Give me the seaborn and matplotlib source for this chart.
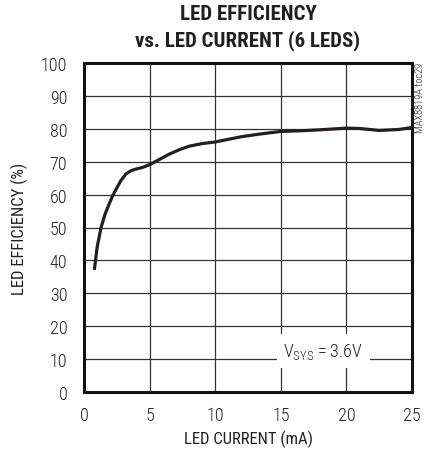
import matplotlib
matplotlib.use("Agg")
import matplotlib.pyplot as plt
import seaborn as sns
import pandas as pd

# LED efficiency vs LED current, 6 LEDs, VSYS = 3.6V
current_ma = [0.8, 1.0, 1.3, 1.6, 1.9, 2.2, 2.5, 2.8, 3.2, 3.6, 4.0, 4.5, 5.0,
              5.8, 6.5, 7.3, 8.0, 9.0, 10.0, 11.0, 12.0, 13.4, 15.0, 16.5,
              18.0, 20.0, 21.0, 22.5, 24.0, 25.0]
efficiency_pct = [37.5, 44.0, 50.0, 54.0, 57.0, 59.8, 62.0, 64.2, 66.3, 67.3,
                  67.8, 68.3, 69.1, 70.8, 72.3, 73.7, 74.7, 75.5, 76.0, 76.8,
                  77.6, 78.4, 79.2, 79.4, 79.7, 80.2, 80.1, 79.5, 79.8, 80.4]
x_ticks = [0, 5, 10, 15, 20, 25]
y_ticks = [0, 10, 20, 30, 40, 50, 60, 70, 80, 90, 100]

sns.set_theme(style="white")
plt.rcParams["font.family"] = ["Roboto Condensed", "Fira Sans Condensed",
                               "DejaVu Sans"]
plt.rcParams["font.weight"] = 300
plt.rcParams["mathtext.fontset"] = "custom"
plt.rcParams["mathtext.rm"] = "Roboto Condensed:light"

ink = "#231f20"
df = pd.DataFrame({"current": current_ma, "eff": efficiency_pct})

fig = plt.figure(figsize=(4.25, 4.56), dpi=100)
ax = fig.add_axes([84 / 425, 1 - 393 / 456, 328 / 425, 329 / 456])

sns.lineplot(data=df, x="current", y="eff", ax=ax, color=ink,
             linewidth=2.3, zorder=3)

ax.set_xlim(0, 25)
ax.set_ylim(0, 100)
ax.set_xticks(x_ticks)
ax.set_yticks(y_ticks)
ax.grid(True, color="#333333", linewidth=0.9)
ax.tick_params(axis="both", length=0, labelsize=13, colors=ink)
ax.tick_params(axis="x", pad=10)
ax.tick_params(axis="y", pad=12)
for s in ax.spines.values():
    s.set_visible(True)
    s.set_linewidth(2.2)
    s.set_color("#111111")

ax.set_xlabel("LED CURRENT (mA)", fontsize=12, color=ink, labelpad=4)
ax.set_ylabel("LED EFFICIENCY (%)", fontsize=12, color=ink, labelpad=9)

# two-line bold title, centred over the plot area
fig.text(248 / 425, 1 - 20 / 456, "LED EFFICIENCY", ha="center",
         va="baseline", fontsize=15, fontweight=900, color=ink)
fig.text(248 / 425, 1 - 46.5 / 456, "vs. LED CURRENT (6 LEDS)", ha="center",
         va="baseline", fontsize=15, fontweight=900, color=ink)

ax.text(18.25, 12.4, r"V$_{\mathrm{SYS}}$ = 3.6V", ha="center", va="center",
        fontsize=13, color=ink, zorder=4,
        bbox=dict(facecolor="white", edgecolor="none", pad=5))

fig.text(420 / 425, 1 - 63 / 456, "MAX8819A toc29", rotation=90,
         ha="center", va="top", fontsize=7.5, color=ink)

fig.savefig("out.png", dpi=100)
